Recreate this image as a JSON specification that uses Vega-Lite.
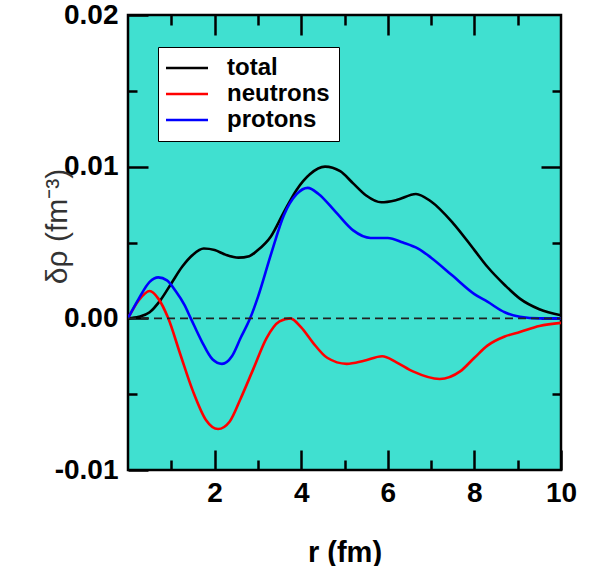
{
  "$schema": "https://vega.github.io/schema/vega-lite/v6.json",
  "width": 433,
  "height": 455,
  "autosize": "none",
  "padding": {"left": 128, "top": 15, "right": 29, "bottom": 96},
  "background": "white",
  "config": {
    "view": {"fill": "#40E0D0", "stroke": "black", "strokeWidth": 2.5},
    "axis": {
      "domain": false,
      "grid": false,
      "tickColor": "black",
      "tickWidth": 2.5,
      "labelFont": "Liberation Sans",
      "labelFontSize": 28,
      "labelFontWeight": "bold",
      "labelColor": "black",
      "labelFlush": false,
      "labelOverlap": false
    }
  },
  "layer": [
    {
      "data": {
        "values": [
          {"r": 0, "v": 0, "s": "total"},
          {"r": 0.25, "v": 0.0001, "s": "total"},
          {"r": 0.5, "v": 0.0004, "s": "total"},
          {"r": 0.75, "v": 0.0012, "s": "total"},
          {"r": 1.0, "v": 0.0023, "s": "total"},
          {"r": 1.25, "v": 0.0034, "s": "total"},
          {"r": 1.5, "v": 0.0042, "s": "total"},
          {"r": 1.75, "v": 0.0046, "s": "total"},
          {"r": 2.0, "v": 0.0045, "s": "total"},
          {"r": 2.25, "v": 0.0042, "s": "total"},
          {"r": 2.55, "v": 0.0040, "s": "total"},
          {"r": 2.8, "v": 0.0041, "s": "total"},
          {"r": 3.0, "v": 0.0045, "s": "total"},
          {"r": 3.3, "v": 0.0054, "s": "total"},
          {"r": 3.6, "v": 0.0070, "s": "total"},
          {"r": 3.9, "v": 0.0085, "s": "total"},
          {"r": 4.2, "v": 0.0095, "s": "total"},
          {"r": 4.55, "v": 0.0100, "s": "total"},
          {"r": 4.9, "v": 0.0097, "s": "total"},
          {"r": 5.2, "v": 0.0089, "s": "total"},
          {"r": 5.5, "v": 0.0081, "s": "total"},
          {"r": 5.85, "v": 0.00765, "s": "total"},
          {"r": 6.2, "v": 0.0078, "s": "total"},
          {"r": 6.65, "v": 0.0082, "s": "total"},
          {"r": 7.0, "v": 0.0077, "s": "total"},
          {"r": 7.5, "v": 0.0063, "s": "total"},
          {"r": 8.0, "v": 0.0045, "s": "total"},
          {"r": 8.3, "v": 0.0034, "s": "total"},
          {"r": 8.7, "v": 0.0022, "s": "total"},
          {"r": 9.05, "v": 0.0013, "s": "total"},
          {"r": 9.5, "v": 0.0006, "s": "total"},
          {"r": 10, "v": 0.0002, "s": "total"},

          {"r": 0, "v": 0, "s": "neutrons"},
          {"r": 0.25, "v": 0.0012, "s": "neutrons"},
          {"r": 0.5, "v": 0.0018, "s": "neutrons"},
          {"r": 0.7, "v": 0.0013, "s": "neutrons"},
          {"r": 0.93, "v": 0.0, "s": "neutrons"},
          {"r": 1.2, "v": -0.0023, "s": "neutrons"},
          {"r": 1.5, "v": -0.0048, "s": "neutrons"},
          {"r": 1.8, "v": -0.0067, "s": "neutrons"},
          {"r": 2.08, "v": -0.0073, "s": "neutrons"},
          {"r": 2.35, "v": -0.0068, "s": "neutrons"},
          {"r": 2.6, "v": -0.0053, "s": "neutrons"},
          {"r": 2.9, "v": -0.0033, "s": "neutrons"},
          {"r": 3.2, "v": -0.0013, "s": "neutrons"},
          {"r": 3.5, "v": -0.0002, "s": "neutrons"},
          {"r": 3.75, "v": 0.0, "s": "neutrons"},
          {"r": 4.0, "v": -0.0006, "s": "neutrons"},
          {"r": 4.27, "v": -0.0016, "s": "neutrons"},
          {"r": 4.6, "v": -0.0026, "s": "neutrons"},
          {"r": 5.05, "v": -0.0030, "s": "neutrons"},
          {"r": 5.45, "v": -0.0028, "s": "neutrons"},
          {"r": 5.87, "v": -0.0025, "s": "neutrons"},
          {"r": 6.2, "v": -0.0029, "s": "neutrons"},
          {"r": 6.58, "v": -0.0035, "s": "neutrons"},
          {"r": 7.2, "v": -0.0040, "s": "neutrons"},
          {"r": 7.67, "v": -0.0035, "s": "neutrons"},
          {"r": 8.0, "v": -0.0026, "s": "neutrons"},
          {"r": 8.3, "v": -0.0018, "s": "neutrons"},
          {"r": 8.7, "v": -0.0012, "s": "neutrons"},
          {"r": 9.05, "v": -0.0009, "s": "neutrons"},
          {"r": 9.5, "v": -0.0005, "s": "neutrons"},
          {"r": 10, "v": -0.0003, "s": "neutrons"},

          {"r": 0, "v": 0, "s": "protons"},
          {"r": 0.25, "v": 0.0013, "s": "protons"},
          {"r": 0.5, "v": 0.0024, "s": "protons"},
          {"r": 0.7, "v": 0.0027, "s": "protons"},
          {"r": 0.9, "v": 0.0025, "s": "protons"},
          {"r": 1.1, "v": 0.0018, "s": "protons"},
          {"r": 1.3, "v": 0.0009, "s": "protons"},
          {"r": 1.45, "v": 0.0, "s": "protons"},
          {"r": 1.7, "v": -0.0015, "s": "protons"},
          {"r": 1.95, "v": -0.0027, "s": "protons"},
          {"r": 2.17, "v": -0.0030, "s": "protons"},
          {"r": 2.4, "v": -0.0025, "s": "protons"},
          {"r": 2.6, "v": -0.0013, "s": "protons"},
          {"r": 2.82, "v": 0.0, "s": "protons"},
          {"r": 3.0, "v": 0.0014, "s": "protons"},
          {"r": 3.3, "v": 0.0042, "s": "protons"},
          {"r": 3.6, "v": 0.0068, "s": "protons"},
          {"r": 3.9, "v": 0.0082, "s": "protons"},
          {"r": 4.15, "v": 0.0086, "s": "protons"},
          {"r": 4.4, "v": 0.0082, "s": "protons"},
          {"r": 4.8, "v": 0.0070, "s": "protons"},
          {"r": 5.2, "v": 0.0058, "s": "protons"},
          {"r": 5.6, "v": 0.0053, "s": "protons"},
          {"r": 6.0, "v": 0.0053, "s": "protons"},
          {"r": 6.35, "v": 0.0050, "s": "protons"},
          {"r": 6.7, "v": 0.0046, "s": "protons"},
          {"r": 7.0, "v": 0.0040, "s": "protons"},
          {"r": 7.5, "v": 0.0028, "s": "protons"},
          {"r": 8.0, "v": 0.0016, "s": "protons"},
          {"r": 8.3, "v": 0.0011, "s": "protons"},
          {"r": 8.7, "v": 0.0004, "s": "protons"},
          {"r": 9.05, "v": 0.0001, "s": "protons"},
          {"r": 9.5, "v": 0.0, "s": "protons"},
          {"r": 10, "v": 0.0, "s": "protons"}
        ]
      },
      "mark": {"type": "line", "strokeWidth": 2.6, "interpolate": "monotone", "clip": true},
      "encoding": {
        "x": {
          "field": "r", "type": "quantitative",
          "scale": {"domain": [0, 10], "nice": false, "zero": false},
          "axis": {
            "orient": "bottom", "values": [2, 4, 6, 8, 10], "tickSize": -20,
            "labelPadding": 29,
            "title": "r (fm)", "titleFont": "Liberation Sans", "titleFontSize": 29,
            "titleFontWeight": "bold", "titleColor": "black", "titlePadding": 31
          }
        },
        "y": {
          "field": "v", "type": "quantitative",
          "scale": {"domain": [-0.01, 0.02], "nice": false, "zero": false},
          "axis": {
            "orient": "left", "values": [-0.01, 0, 0.01, 0.02], "tickSize": -20,
            "labelPadding": 30,
            "labelExpr": "replace(format(datum.value, '.2f'), '−', '-')",
            "title": "δρ (fm⁻³)", "titleFont": "Liberation Sans", "titleFontSize": 30,
            "titleFontWeight": "normal", "titleColor": "#333333",
            "titleAngle": -90, "titleX": -71, "titleY": 211,
            "titleAlign": "center", "titleBaseline": "middle"
          }
        },
        "color": {
          "field": "s", "type": "nominal",
          "scale": {"domain": ["total", "neutrons", "protons"], "range": ["black", "#ff0000", "#0000ff"]},
          "legend": {
            "title": null,
            "orient": "none", "legendX": 30, "legendY": 32,
            "fillColor": "white", "strokeColor": "black",
            "padding": 9,
            "symbolType": "M-2,0H2", "symbolSize": 441, "symbolStrokeWidth": 2.5,
            "symbolOffset": 8,
            "labelFont": "Liberation Sans", "labelFontSize": 24, "labelFontWeight": "bold",
            "labelColor": "black", "labelOffset": 28, "rowPadding": 2
          }
        }
      }
    },
    {
      "data": {"values": [{}]},
      "mark": {"type": "rule", "color": "#222222", "strokeWidth": 1.6, "strokeDash": [8, 5]},
      "encoding": {
        "x": {"datum": 0, "type": "quantitative", "axis": {"orient": "top", "values": [2, 4, 6, 8], "tickSize": -20, "labels": false, "title": null}},
        "x2": {"datum": 10},
        "y": {"datum": 0, "type": "quantitative", "axis": {"orient": "right", "values": [0, 0.01], "tickSize": -20, "labels": false, "title": null}}
      }
    },
    {
      "data": {"values": [{}]},
      "mark": {"type": "rule", "strokeOpacity": 0},
      "encoding": {
        "x": {"datum": 0, "type": "quantitative", "axis": {"orient": "bottom", "values": [1, 3, 5, 7, 9], "tickSize": -10, "labels": false, "title": null}},
        "x2": {"datum": 10},
        "y": {"datum": 0, "type": "quantitative", "axis": {"orient": "left", "values": [-0.005, 0.005, 0.015], "tickSize": -9, "labels": false, "title": null}}
      }
    },
    {
      "data": {"values": [{}]},
      "mark": {"type": "rule", "strokeOpacity": 0},
      "encoding": {
        "x": {"datum": 0, "type": "quantitative", "axis": {"orient": "top", "values": [1, 3, 5, 7, 9], "tickSize": -10, "labels": false, "title": null}},
        "x2": {"datum": 10},
        "y": {"datum": 0, "type": "quantitative", "axis": {"orient": "right", "values": [-0.005, 0.005, 0.015], "tickSize": -9, "labels": false, "title": null}}
      }
    }
  ],
  "resolve": {"axis": {"x": "independent", "y": "independent"}}
}
